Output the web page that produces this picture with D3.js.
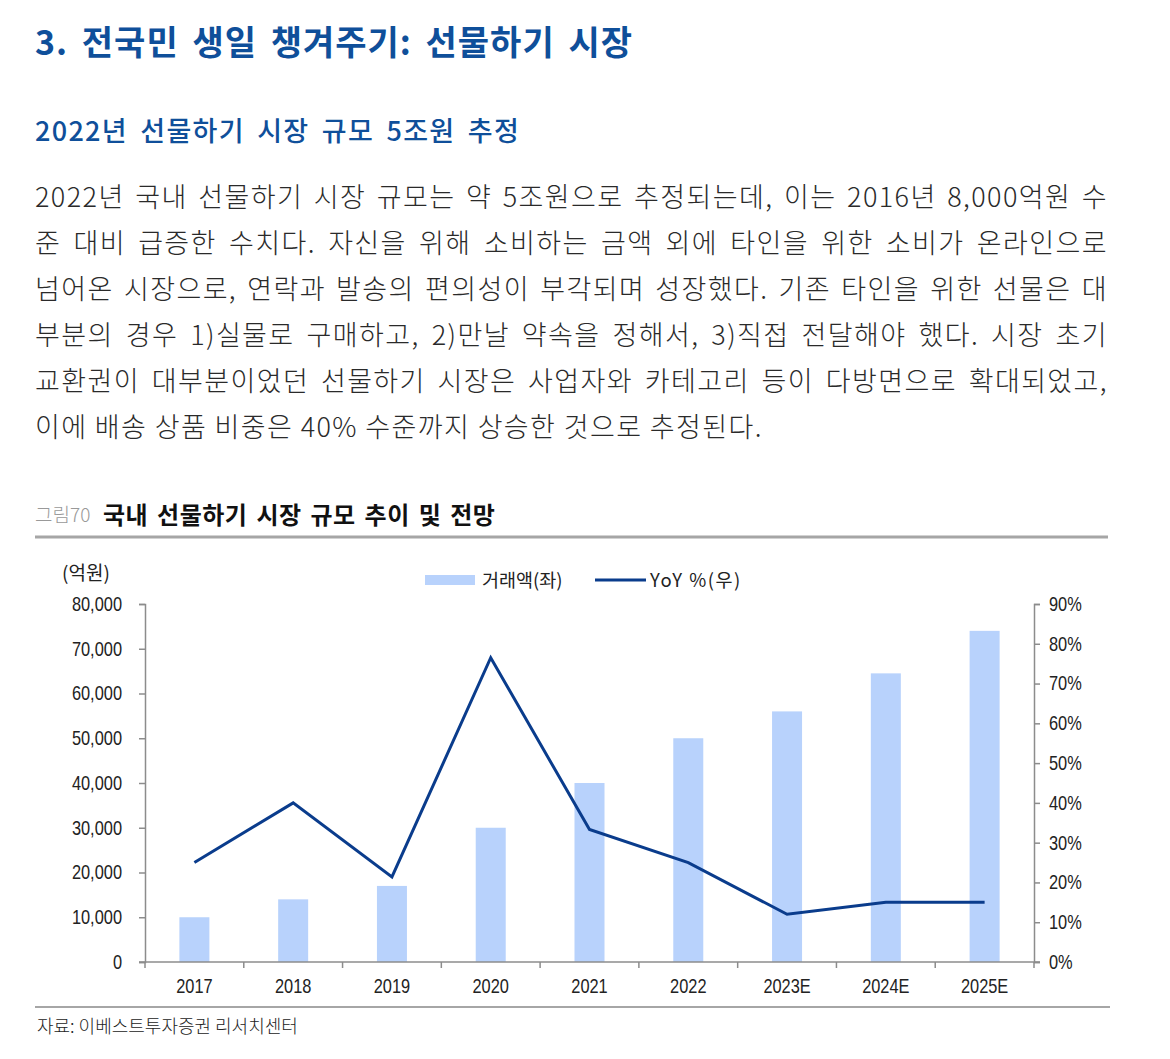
<!DOCTYPE html>
<html>
<head>
<meta charset="utf-8">
<script src="https://cdn.jsdelivr.net/npm/d3@7"></script>
<style>
  body { margin: 0; background: #fff; }
  svg { display: block; }
</style>
</head>
<body>
<div id="chart"></div>
<script>
// data
var years = ["2017", "2018", "2019", "2020", "2021", "2022", "2023E", "2024E", "2025E"];
var sales = [10000, 14000, 17000, 30000, 40000, 50000, 56000, 64500, 74000];   // 억원
var yoy = [25.0, 40.0, 21.4, 76.5, 33.3, 25.0, 12.0, 15.0, 15.0];              // %
var leftTicks = [0, 10000, 20000, 30000, 40000, 50000, 60000, 70000, 80000];
var rightTicks = [0, 10, 20, 30, 40, 50, 60, 70, 80, 90];

var bodyLines = [
  "2022년 국내 선물하기 시장 규모는 약 5조원으로 추정되는데, 이는 2016년 8,000억원 수",
  "준 대비 급증한 수치다. 자신을 위해 소비하는 금액 외에 타인을 위한 소비가 온라인으로",
  "넘어온 시장으로, 연락과 발송의 편의성이 부각되며 성장했다. 기존 타인을 위한 선물은 대",
  "부분의 경우 1)실물로 구매하고, 2)만날 약속을 정해서, 3)직접 전달해야 했다. 시장 초기",
  "교환권이 대부분이었던 선물하기 시장은 사업자와 카테고리 등이 다방면으로 확대되었고,",
  "이에 배송 상품 비중은 40% 수준까지 상승한 것으로 추정된다."
];

var KR = "'Noto Sans CJK KR', 'Noto Sans', sans-serif";
var NUM = "'Liberation Sans', Arial, sans-serif";
var blue = "#0f4f9a";

var svg = d3.select("#chart")
  .append("svg")
  .attr("width", 1170)
  .attr("height", 1059);

// headings
svg.append("text")
  .attr("x", 35).attr("y", 55)
  .attr("font-family", KR).attr("font-size", 34).attr("font-weight", 700)
  .attr("letter-spacing", 1).attr("word-spacing", 5)
  .attr("fill", blue)
  .text("3. 전국민 생일 챙겨주기: 선물하기 시장");

svg.append("text")
  .attr("x", 35).attr("y", 141)
  .attr("font-family", KR).attr("font-size", 27).attr("font-weight", 500)
  .attr("letter-spacing", 1.3).attr("word-spacing", 5)
  .attr("fill", blue)
  .text("2022년 선물하기 시장 규모 5조원 추정");

// body paragraph, justified by word spacing
var bodyW = 1073;
var body = svg.append("g").selectAll("text")
  .data(bodyLines)
  .join("text")
  .attr("x", 35)
  .attr("y", function(d, i) { return 207 + i * 46; })
  .attr("font-family", KR).attr("font-size", 27).attr("font-weight", 300)
  .attr("letter-spacing", 1.4)
  .attr("fill", "#2a2a2a")
  .text(function(d) { return d; });

body.each(function(d, i) {
  if (i == bodyLines.length - 1) return;
  var w = this.getComputedTextLength();
  var n = d.split(" ").length - 1;
  if (w < bodyW) {
    d3.select(this).attr("word-spacing", (bodyW - w) / n);
  } else {
    d3.select(this).attr("textLength", bodyW).attr("lengthAdjust", "spacingAndGlyphs");
  }
});

// figure caption
svg.append("text")
  .attr("x", 35).attr("y", 522)
  .attr("font-family", KR).attr("font-size", 19).attr("font-weight", 300)
  .attr("fill", "#999")
  .text("그림70");
svg.append("text")
  .attr("x", 103).attr("y", 524)
  .attr("font-family", KR).attr("font-size", 24).attr("font-weight", 700)
  .attr("letter-spacing", 0.5).attr("word-spacing", 3)
  .attr("fill", "#111")
  .text("국내 선물하기 시장 규모 추이 및 전망");
svg.append("line")
  .attr("x1", 35).attr("x2", 1108).attr("y1", 537).attr("y2", 537)
  .attr("stroke", "#a6a6a6").attr("stroke-width", 3);

// chart
var plotL = 145, plotR = 1034, plotT = 604, plotB = 962;

var x = d3.scaleBand().domain(years).range([plotL, plotR]);
var yL = d3.scaleLinear().domain([0, 80000]).range([plotB, plotT]);
var yR = d3.scaleLinear().domain([0, 90]).range([plotB, plotT]);

var barW = 30;
svg.append("g").selectAll("rect")
  .data(sales)
  .join("rect")
  .attr("x", function(d, i) { return x(years[i]) + x.bandwidth() / 2 - barW / 2; })
  .attr("y", function(d) { return yL(d); })
  .attr("width", barW)
  .attr("height", function(d) { return plotB - yL(d); })
  .attr("fill", "#b8d2fc");

var line = d3.line()
  .x(function(d, i) { return x(years[i]) + x.bandwidth() / 2; })
  .y(function(d) { return yR(d); });

svg.append("path")
  .datum(yoy)
  .attr("d", line)
  .attr("fill", "none")
  .attr("stroke", "#0a3c8c")
  .attr("stroke-width", 3)
  .attr("stroke-linejoin", "miter");

// axes
var axL = svg.append("g")
  .attr("transform", "translate(" + plotL + ",0)")
  .call(d3.axisLeft(yL).tickValues(leftTicks).tickSize(6).tickPadding(17)
    .tickFormat(d3.format(",")));
var axR = svg.append("g")
  .attr("transform", "translate(" + plotR + ",0)")
  .call(d3.axisRight(yR).tickValues(rightTicks).tickSize(6).tickPadding(9)
    .tickFormat(function(d) { return d + "%"; }));

var xEdges = years.map(function(d) { return x(d); }).concat([plotR]);
var axB = svg.append("g")
  .attr("transform", "translate(0," + plotB + ")")
  .call(d3.axisBottom(x).tickSize(0).tickPadding(13));
axB.selectAll(".tick text").attr("dy", "0.9em");
axB.selectAll(".sep")
  .data(xEdges)
  .join("line")
  .attr("class", "sep")
  .attr("x1", function(d) { return d; }).attr("x2", function(d) { return d; })
  .attr("y1", 0).attr("y2", 6);
axB.select(".domain").attr("d", "M" + (plotL - 6) + ",0H" + (plotR + 6));

[axL, axR, axB].forEach(function(g) {
  g.select(".domain").attr("stroke", "#8c8c8c").attr("stroke-width", 1.5);
  g.selectAll("line").attr("stroke", "#8c8c8c").attr("stroke-width", 1.5);
  g.selectAll("text")
    .attr("font-family", NUM)
    .attr("font-size", 20)
    .attr("fill", "#222")
    .attr("transform", function() {
      var ax = +d3.select(this).attr("x") || 0;
      return "translate(" + ax + ",0) scale(0.82,1) translate(" + (-ax) + ",0)";
    });
});

// unit label
svg.append("text")
  .attr("x", 86).attr("y", 580)
  .attr("text-anchor", "middle")
  .attr("font-family", KR).attr("font-size", 19)
  .attr("fill", "#222")
  .text("(억원)");

// legend
var legend = svg.append("g");
legend.append("rect")
  .attr("x", 425).attr("y", 575).attr("width", 50).attr("height", 10)
  .attr("fill", "#b8d2fc");
legend.append("text")
  .attr("x", 482).attr("y", 587)
  .attr("font-family", KR).attr("font-size", 18.5).attr("fill", "#222")
  .text("거래액(좌)");
legend.append("line")
  .attr("x1", 595).attr("x2", 646).attr("y1", 580).attr("y2", 580)
  .attr("stroke", "#0a3c8c").attr("stroke-width", 3);
legend.append("text")
  .attr("x", 650).attr("y", 587)
  .attr("font-family", KR).attr("font-size", 18.5).attr("fill", "#222")
  .attr("letter-spacing", 1.5)
  .text("YoY %(우)");

// source
svg.append("line")
  .attr("x1", 35).attr("x2", 1110).attr("y1", 1007).attr("y2", 1007)
  .attr("stroke", "#a6a6a6").attr("stroke-width", 2);
svg.append("text")
  .attr("x", 37).attr("y", 1033)
  .attr("font-family", KR).attr("font-size", 18).attr("font-weight", 300)
  .attr("fill", "#222")
  .text("자료: 이베스트투자증권 리서치센터");
</script>
</body>
</html>
